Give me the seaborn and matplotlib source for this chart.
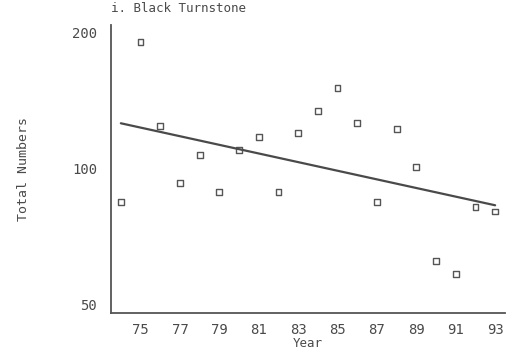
import numpy as np
import pandas as pd
import matplotlib
matplotlib.use("Agg")
import matplotlib.pyplot as plt
import matplotlib.ticker as mticker
import seaborn as sns

# ---- data ----
years = [1974, 1975, 1976, 1977, 1978, 1979, 1980, 1981, 1982, 1983,
         1984, 1985, 1986, 1987, 1988, 1989, 1990, 1991, 1992, 1993]
totals = [84.4, 190.7, 124.5, 93.1, 107.4, 89.1, 110.3, 117.5, 89.1, 120.1,
          134.4, 151.3, 126.4, 84.4, 122.4, 101.2, 62.6, 58.5, 82.4, 80.5]
x_ticks = [1975, 1977, 1979, 1981, 1983, 1985, 1987, 1989, 1991, 1993]
x_tick_labels = ["75", "77", "79", "81", "83", "85", "87", "89", "91", "93"]
y_ticks = [50, 100, 200]
y_tick_labels = ["50", "100", "200"]
title = "i. Black Turnstone"

df = pd.DataFrame({"Year": years, "Total": totals})
# least-squares trend on log scale
coef = np.polyfit(df["Year"], np.log10(df["Total"]), 1)
df["Trend"] = 10 ** np.polyval(coef, df["Year"])

sns.set_style("white")
plt.rcParams["font.family"] = ["DejaVu Sans Mono"]

fig = plt.figure(figsize=(5.11, 3.60), dpi=100)
ax = fig.add_axes([111 / 511, 1 - 313 / 360, (505 - 111) / 511, (313 - 25) / 360])

ink = "#4a4a4a"
sns.lineplot(data=df, x="Year", y="Trend", ax=ax, color=ink, linewidth=1.6)
sns.scatterplot(data=df, x="Year", y="Total", ax=ax, marker="s", s=18,
                facecolor="none", edgecolor="#555555", linewidth=1.0)

ax.set_yscale("log")
ax.set_xlim(1973.5, 1993.5)
ax.set_ylim(48.0, 208.3)
ax.yaxis.set_major_locator(mticker.FixedLocator(y_ticks))
ax.yaxis.set_major_formatter(mticker.FixedFormatter(y_tick_labels))
ax.yaxis.set_minor_locator(mticker.NullLocator())
ax.set_xticks(x_ticks)
ax.set_xticklabels(x_tick_labels)

for side in ["top", "right"]:
    ax.spines[side].set_visible(False)
for side in ["left", "bottom"]:
    ax.spines[side].set_color("#555555")
    ax.spines[side].set_linewidth(1.3)

ax.tick_params(axis="both", which="major", direction="out", length=5, width=1.0,
               color="#555555", labelcolor=ink, labelsize=10)
ax.tick_params(axis="y", pad=5)
ax.tick_params(axis="x", pad=2)

ax.set_xlabel("Year", fontsize=9, color=ink, labelpad=0)
ax.set_ylabel("Total Numbers", fontsize=9.5, color=ink, labelpad=30)
fig.text(111 / 511, 1 - 8 / 360, title, fontsize=9, color=ink, ha="left", va="center")

fig.savefig("out.png", dpi=100)
